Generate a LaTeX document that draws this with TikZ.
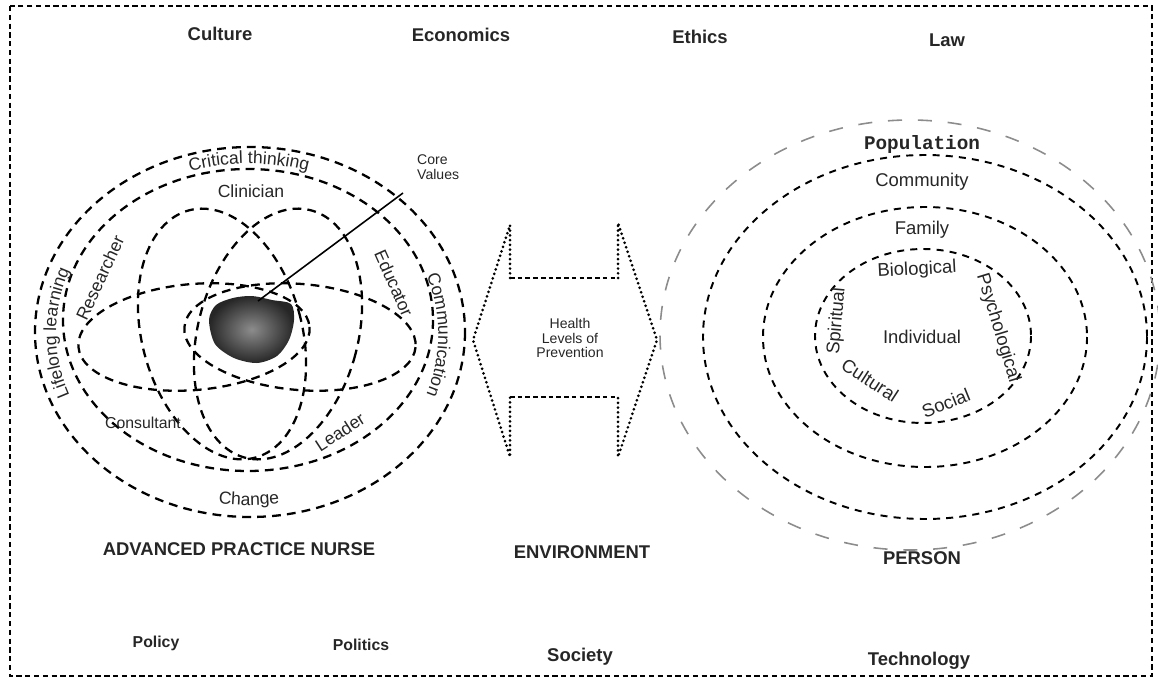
\documentclass[tikz,border=0pt]{standalone}
\usepackage{fontspec}
\setmainfont{Liberation Sans}
\newfontfamily\monofam{Liberation Mono}
\usetikzlibrary{decorations.text}
\newcommand{\curvefont}{\color{black!85}\fontsize{10}{11}\selectfont}
\tikzset{
  frameline/.style={line width=1.3pt, dash pattern=on 3pt off 2pt},
  ring/.style={line width=1.3pt, dash pattern=on 5pt off 3.5pt},
  thinring/.style={line width=1.1pt, dash pattern=on 4pt off 3.5pt},
  faintring/.style={black!45, line width=0.9pt, dash pattern=on 8pt off 9pt},
  dotedge/.style={line width=1.7pt, line cap=round, dash pattern=on 0pt off 2.7pt},
  dashedge/.style={line width=1.3pt, dash pattern=on 2.6pt off 1.8pt},
  curvetext/.style={decorate, decoration={text along path, text align=center, text={|\curvefont|#1}}},
  ctxlabel/.style={text=black!85, font=\bfseries\fontsize{10.5}{12}\selectfont},
  ctxsmall/.style={text=black!85, font=\bfseries\fontsize{9}{11}\selectfont},
  rolelabel/.style={text=black!85, font=\fontsize{10}{11}\selectfont},
  personlabel/.style={text=black!85, font=\fontsize{10.5}{12}\selectfont},
  poplabel/.style={text=black!85, font=\monofam\bfseries\fontsize{11}{12}\selectfont},
  smalllabel/.style={text=black!85, font=\fontsize{8}{8.5}\selectfont}
}
\begin{document}
\begin{tikzpicture}[x=0.02cm, y=-0.02cm]
      \useasboundingbox (0, 0) rectangle (1158, 682);
      \draw[frameline] (10, 6) rectangle (1152, 676);

      \node[ctxlabel] (culture) at (220, 34){Culture};
      \node[ctxlabel] (economics) at (461, 35){Economics};
      \node[ctxlabel] (ethics) at (700, 37){Ethics};
      \node[ctxlabel] (law) at (947, 40){Law};
      \node[ctxsmall] (policy) at (156, 643){Policy};
      \node[ctxsmall] (politics) at (361, 645){Politics};
      \node[ctxlabel] (society) at (580, 657){Society};
      \node[ctxlabel] (technology) at (919, 661){Technology};

      \node[ctxlabel] (apn) at (239, 549){ADVANCED PRACTICE NURSE};
      \node[ctxlabel] (environment) at (582, 552){ENVIRONMENT};
      \node[ctxlabel] (person) at (922, 558){PERSON};

      % nurse
      \draw[ring] (250, 332) ellipse (215 and 185);
      \draw[ring] (248, 320) ellipse (185 and 151);
      \draw[ring, rotate around={15:(222, 334)}] (222, 334) ellipse (80 and 128);
      \draw[ring, rotate around={-15:(278, 334)}] (278, 334) ellipse (80 and 128);
      \draw[ring, rotate around={5:(194, 337)}] (194, 337) ellipse (116 and 53);
      \draw[ring, rotate around={-5:(300, 337)}] (300, 337) ellipse (116 and 53);
      \shade[inner color=black!45, outer color=black!85] plot[smooth cycle] coordinates {(209, 320) (216, 305) (233, 298) (252, 296) (272, 300) (291, 304) (294, 320) (289, 340) (277, 356) (257, 363) (234, 358) (215, 344)};
      \coordinate (blobtop) at (258, 301);
      \coordinate (valtip) at (403, 193);
      \draw[line width=0.9pt] (blobtop) to (valtip);

      \path[curvetext={Critical thinking}] (150, 186) arc[start angle=240, end angle=300, x radius=198, y radius=167];
      \path[curvetext={Lifelong learning}] (82, 418) arc[start angle=150, end angle=210, x radius=193, y radius=170];
      \path[curvetext={Communication}] (413, 250) arc[start angle=-30, end angle=30, x radius=189, y radius=170];
      \path[curvetext={Change}] (149, 482) arc[start angle=120, end angle=60, x radius=200, y radius=173];
      \node[rolelabel] (clinician) at (251, 191){Clinician};
      \node[smalllabel, anchor=west, align=left] (corevalues) at (411, 167){Core\\Values};
      \node[rolelabel, rotate=65] (researcher) at (100, 278){Researcher};
      \node[rolelabel, rotate=-66] (educator) at (394, 283){Educator};
      \node[rolelabel, font=\fontsize{9}{10}\selectfont] (consultant) at (143, 423){Consultant};
      \node[rolelabel, rotate=33] (leader) at (340, 432){Leader};

      % prevention arrow
      \draw[dotedge] (510, 278) -- (510, 225) -- (473, 340) -- (510, 457) -- (510, 397);
      \draw[dotedge] (618, 278) -- (618, 223) -- (657, 340) -- (618, 457) -- (618, 397);
      \draw[dashedge] (510, 278) -- (618, 278);
      \draw[dashedge] (510, 397) -- (618, 397);
      \node[smalllabel, align=center] (health) at (570, 338){Health\\Levels of\\Prevention};

      % person
      \begin{scope}
        \clip (0, 0) rectangle (1158, 682);
        \draw[faintring] (910, 335) ellipse (250 and 215);
      \end{scope}
      \draw[thinring] (925, 337) ellipse (222 and 182);
      \draw[thinring] (925, 337) ellipse (162 and 130);
      \draw[thinring] (923, 336) ellipse (108 and 87);

      \node[poplabel] (population) at (922, 145){Population};
      \node[personlabel] (community) at (922, 182){Community};
      \node[personlabel] (family) at (922, 230){Family};
      \node[personlabel, rotate=3] (biological) at (917, 270){Biological};
      \node[personlabel, rotate=-73] (psychological) at (998, 328){Psychological};
      \node[personlabel, rotate=85] (spiritual) at (837, 321){Spiritual};
      \node[personlabel] (individual) at (922, 337){Individual};
      \node[personlabel, rotate=-33] (cultural) at (870, 380){Cultural};
      \node[personlabel, rotate=22] (social) at (946, 403){Social};
    \end{tikzpicture}
\end{document}
